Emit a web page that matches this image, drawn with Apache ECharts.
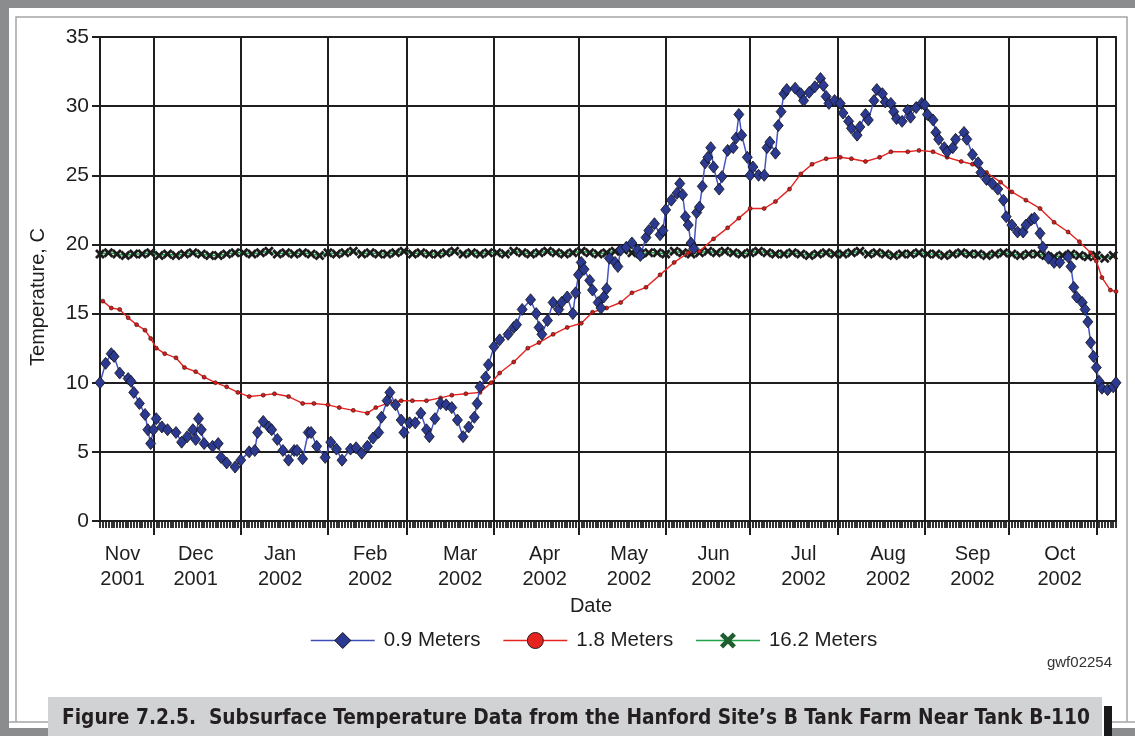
<!DOCTYPE html>
<html>
<head>
<meta charset="utf-8">
<script src="https://cdn.jsdelivr.net/npm/echarts@6/dist/echarts.min.js"></script>
<style>
html,body{margin:0;padding:0;background:#fff;}
#chart{width:1135px;height:736px;}
</style>
</head>
<body>
<div id="chart"></div>
<script>
// ---------- DATA ----------
// Record runs daily from 2001-11-12 to 2002-11-08
const startDate = [2001, 10, 12];
const numDays = 362;

const monthStartDates = ['2001-12-01','2002-01-01','2002-02-01','2002-03-01','2002-04-01','2002-05-01',
  '2002-06-01','2002-07-01','2002-08-01','2002-09-01','2002-10-01','2002-11-01'];
const monthLabelDates = ['2001-11-20','2001-12-16','2002-01-15','2002-02-16','2002-03-20','2002-04-19',
  '2002-05-19','2002-06-18','2002-07-20','2002-08-19','2002-09-18','2002-10-19'];
const monthLabels = ['Nov\n2001','Dec\n2001','Jan\n2002','Feb\n2002','Mar\n2002','Apr\n2002',
  'May\n2002','Jun\n2002','Jul\n2002','Aug\n2002','Sep\n2002','Oct\n2002'];

const yTicks = [0, 5, 10, 15, 20, 25, 30, 35];

// 0.9 Meters (day offset from 2001-11-12, temperature C)
const blueDays = [0,2,4,5,7,10,11,12,14,16,17,18,19,20,22,24,27,29,31,33,34,35,36,37,40,42,43,45,48,50,
  53,55,56,58,60,61,63,65,67,69,70,72,74,75,77,80,82,84,86,89,91,93,95,97,99,100,102,103,105,107,
  108,110,112,114,116,117,119,121,123,125,127,129,131,133,134,135,137,138,140,142,145,147,148,150,153,155,156,157,159,161,
  163,164,166,168,169,170,171,172,174,175,177,178,179,180,181,183,184,185,187,189,191,192,194,195,197,199,200,201,203,205,
  206,207,208,209,210,211,212,213,214,215,216,217,218,220,221,223,225,226,227,228,230,231,232,234,236,237,238,240,241,242,
  243,244,247,249,250,252,254,256,257,258,259,261,263,264,266,267,269,270,272,273,275,276,278,279,281,282,283,285,287,288,
  290,292,293,294,296,297,298,300,301,303,304,307,308,310,312,313,315,317,319,321,322,324,326,328,329,331,332,334,335,337,
  339,341,344,345,346,347,349,350,351,352,353,354,355,356,358,360,361];
const blueTemps = [10.0,11.4,12.1,11.9,10.7,10.3,10.1,9.3,8.5,7.7,6.6,5.6,6.6,7.4,6.8,6.6,6.4,5.7,6.1,6.6,5.9,7.4,6.6,5.6,5.4,5.6,4.6,4.2,3.9,4.4,
  5.0,5.1,6.4,7.2,6.8,6.6,5.9,5.1,4.4,5.1,5.1,4.5,6.4,6.4,5.4,4.6,5.7,5.2,4.4,5.2,5.3,4.9,5.4,6.0,6.4,7.5,8.7,9.3,8.4,7.3,
  6.4,7.1,7.1,7.8,6.6,6.1,7.4,8.5,8.4,8.2,7.3,6.1,6.8,7.5,8.5,9.7,10.4,11.3,12.6,13.1,13.5,14.0,14.2,15.3,16.0,15.0,14.0,13.5,14.5,15.8,
  15.3,15.8,16.2,15.0,16.5,17.8,18.7,18.2,17.4,16.7,15.8,15.4,16.2,16.8,19.0,18.7,18.4,19.6,19.8,20.1,19.6,19.2,20.5,21.0,21.5,20.7,21.0,22.5,23.2,23.7,
  24.4,23.6,22.0,21.4,20.1,19.7,22.3,22.7,24.2,25.9,26.3,27.0,25.6,24.0,24.9,26.8,27.0,27.7,29.4,27.9,26.3,25.0,25.6,25.0,25.0,27.0,27.4,26.6,28.6,29.6,
  30.9,31.2,31.3,30.9,30.4,31.0,31.4,32.0,31.5,30.7,30.2,30.4,30.2,29.5,28.9,28.4,27.9,28.5,29.4,29.0,30.4,31.2,30.9,30.3,30.2,29.6,29.1,28.9,29.7,29.2,
  29.9,30.2,30.1,29.4,29.0,28.1,27.6,27.0,26.7,27.0,27.6,28.1,27.6,26.5,25.9,25.2,24.7,24.4,24.0,23.2,22.0,21.4,20.9,20.9,21.4,21.8,21.9,20.8,19.8,19.0,
  18.7,18.7,19.1,18.4,16.9,16.2,15.8,15.3,14.4,12.9,11.9,11.1,10.1,9.6,9.5,9.7,10.0];

// 1.8 Meters
const redDays = [1,4,7,10,13,16,18,20,23,27,30,34,37,41,45,49,53,58,62,67,72,76,81,85,90,95,98,102,107,111,
  116,121,125,130,135,139,142,147,152,156,161,166,171,175,180,185,189,194,199,204,209,213,218,223,227,231,236,240,245,249,
  253,258,263,267,272,277,281,287,291,296,301,306,310,315,320,324,329,334,339,344,348,352,354,356,359,361];
const redTemps = [15.9,15.4,15.3,14.7,14.2,13.8,13.2,12.5,12.1,11.8,11.1,10.8,10.4,10.0,9.7,9.3,9.0,9.1,9.2,9.0,8.5,8.5,8.4,8.2,8.0,7.8,8.2,8.5,8.7,8.7,
  8.7,8.9,9.1,9.2,9.3,10.0,10.7,11.5,12.5,12.9,13.5,14.0,14.3,15.1,15.4,15.8,16.5,16.9,17.8,18.7,19.4,19.5,20.4,21.2,21.9,22.6,22.6,23.1,24.0,25.1,
  25.8,26.2,26.3,26.2,26.0,26.3,26.7,26.7,26.8,26.7,26.3,26.0,25.8,25.2,24.5,23.8,23.2,22.6,21.6,20.9,20.2,19.4,18.8,17.6,16.7,16.6];

// 16.2 Meters (read every 3 days from day 0)
const greenStep = 3;
const greenTemps = [19.3,19.4,19.3,19.2,19.3,19.3,19.4,19.2,19.3,19.2,19.3,19.4,19.3,19.2,19.2,19.3,19.4,
  19.4,19.3,19.4,19.5,19.3,19.4,19.3,19.4,19.3,19.2,19.4,19.3,19.4,19.5,19.3,19.4,19.3,19.3,19.4,19.5,
  19.3,19.4,19.3,19.3,19.4,19.5,19.3,19.4,19.3,19.4,19.4,19.3,19.5,19.4,19.3,19.4,19.5,19.4,19.3,19.4,
  19.5,19.4,19.3,19.4,19.5,19.6,19.4,19.3,19.4,19.4,19.3,19.5,19.4,19.3,19.4,19.5,19.4,19.5,19.4,19.3,
  19.4,19.5,19.4,19.3,19.3,19.4,19.3,19.2,19.3,19.4,19.3,19.3,19.4,19.5,19.3,19.4,19.3,19.2,19.3,19.3,
  19.4,19.3,19.3,19.2,19.3,19.4,19.3,19.3,19.2,19.3,19.4,19.3,19.2,19.3,19.3,19.2,19.1,19.2,19.3,19.2,19.1,19.2,19.0,19.2];

// ---------- BUILD ----------
const dates = [];
for (let i = 0; i < numDays; i++) {
  const d = new Date(Date.UTC(startDate[0], startDate[1], startDate[2] + i));
  dates.push(d.toISOString().slice(0, 10));
}
const monthStartSet = new Set(monthStartDates);
const labelMap = {};
monthLabelDates.forEach((d, i) => { labelMap[d] = monthLabels[i]; });

const blueData = blueDays.map((d, i) => [dates[d], blueTemps[i]]);
const redData = redDays.map((d, i) => [dates[d], redTemps[i]]);
const greenData = greenTemps.map((v, i) => [dates[i * greenStep], v]);

const FONT = 'Liberation Sans, Arial, sans-serif';
const xPath = 'path://M0,2 L2,0 L5,3 L8,0 L10,2 L7,5 L10,8 L8,10 L5,7 L2,10 L0,8 L3,5 Z';

const chart = echarts.init(document.getElementById('chart'), null, {renderer: 'canvas'});
chart.setOption({
  animation: false,
  backgroundColor: '#ffffff',
  textStyle: {fontFamily: FONT},
  grid: {left: 100, right: 19, top: 37, bottom: 215, show: true, borderColor: '#1e1e1e', borderWidth: 2, backgroundColor: 'transparent'},
  legend: {
    left: 305, top: 625, itemWidth: 64, itemHeight: 20, itemGap: 22,
    textStyle: {fontSize: 20.5, color: '#1e1e1e', fontFamily: FONT, padding: [0, 0, 0, 4]},
    data: [
      {name: '0.9 Meters', itemStyle: {color: '#2b3990', borderColor: '#111', borderWidth: 1}, lineStyle: {color: '#3f4fb8', width: 1.5}},
      {name: '1.8 Meters', itemStyle: {color: '#e52421', borderColor: '#222', borderWidth: 1}, lineStyle: {color: '#e52421', width: 1.5}},
      {name: '16.2 Meters', itemStyle: {color: '#1f5e2e', borderColor: '#1f5e2e', borderWidth: 0}, lineStyle: {color: '#1fa24a', width: 1.5}}
    ]
  },
  xAxis: [{
    type: 'category', data: dates, boundaryGap: false,
    name: 'Date', nameLocation: 'middle', nameGap: 69,
    nameTextStyle: {fontSize: 20, color: '#1e1e1e', padding: [0, 34, 0, 0]},
    axisLine: {show: true, lineStyle: {color: '#1e1e1e', width: 2}},
    axisTick: {show: true, interval: 0, length: 7, lineStyle: {color: '#1e1e1e', width: 1.8}},
    splitLine: {show: true, interval: (idx, val) => monthStartSet.has(val), lineStyle: {color: '#1e1e1e', width: 2}},
    axisLabel: {
      interval: (idx, val) => labelMap[val] !== undefined,
      formatter: (val) => labelMap[val] || '',
      fontSize: 20, color: '#1e1e1e', lineHeight: 25, margin: 21
    }
  }, {
    type: 'category', data: dates, boundaryGap: false, position: 'bottom',
    axisLine: {show: false},
    axisTick: {show: true, interval: (idx, val) => monthStartSet.has(val), length: 14, lineStyle: {color: '#1e1e1e', width: 2}},
    axisLabel: {show: false}, splitLine: {show: false}
  }],
  yAxis: {
    type: 'value', min: yTicks[0], max: yTicks[yTicks.length - 1], interval: 5,
    name: 'Temperature, C', nameLocation: 'middle', nameGap: 52, nameRotate: 90,
    nameTextStyle: {fontSize: 20, color: '#1e1e1e', padding: [0, 36, 0, 0]},
    axisLine: {show: true, lineStyle: {color: '#1e1e1e', width: 2}},
    axisTick: {show: true, length: 8, lineStyle: {color: '#1e1e1e', width: 2}},
    splitLine: {show: true, lineStyle: {color: '#1e1e1e', width: 2}},
    axisLabel: {fontSize: 21, color: '#1e1e1e', margin: 11}
  },
  series: [
    {
      name: '16.2 Meters', type: 'line', data: greenData, connectNulls: true,
      symbol: xPath, symbolSize: 10, showAllSymbol: true,
      lineStyle: {color: '#1fa24a', width: 1.5},
      itemStyle: {color: '#1c1c1c', borderWidth: 0}, z: 2
    },
    {
      name: '1.8 Meters', type: 'line', data: redData, connectNulls: true,
      symbol: 'circle', symbolSize: 4, showAllSymbol: true,
      lineStyle: {color: '#e52421', width: 1.4},
      itemStyle: {color: '#d11f1c', borderColor: '#3a0a0a', borderWidth: 0.6}, z: 3
    },
    {
      name: '0.9 Meters', type: 'line', data: blueData, connectNulls: true,
      symbol: 'diamond', symbolSize: [10, 12], showAllSymbol: true,
      lineStyle: {color: '#4554c4', width: 1.5},
      itemStyle: {color: '#2b3990', borderColor: '#111', borderWidth: 0.8}, z: 4
    }
  ],
  graphic: [
    {type: 'rect', shape: {x: 0, y: 0, width: 1135, height: 8}, style: {fill: '#8b8c8e'}, silent: true},
    {type: 'rect', shape: {x: 0, y: 0, width: 9, height: 736}, style: {fill: '#8b8c8e'}, silent: true},
    {type: 'polyline', shape: {points: [[16, 722], [16, 17], [1127, 17], [1127, 722]]}, style: {stroke: '#a5a5a5', lineWidth: 1.5, fill: null}, silent: true},
    {type: 'line', shape: {x1: 9, y1: 722, x2: 48, y2: 722}, style: {stroke: '#a5a5a5', lineWidth: 1.5}, silent: true},
    {type: 'line', shape: {x1: 1112, y1: 722, x2: 1135, y2: 722}, style: {stroke: '#a5a5a5', lineWidth: 1.5}, silent: true},
    {type: 'rect', shape: {x: 0, y: 728, width: 48, height: 8}, style: {fill: '#8b8c8e'}, silent: true},
    {type: 'rect', shape: {x: 1112, y: 728, width: 23, height: 8}, style: {fill: '#8b8c8e'}, silent: true},
    {type: 'rect', shape: {x: 48, y: 697, width: 1054, height: 39}, style: {fill: '#d1d2d4'}, silent: true},
    {type: 'rect', shape: {x: 1104, y: 706, width: 8, height: 30}, style: {fill: '#1a1a1a'}, silent: true},
    {type: 'text', left: 62, top: 708, style: {text: 'Figure 7.2.5.  Subsurface Temperature Data from the Hanford Site\u2019s B Tank Farm Near Tank B-110',
      font: 'bold 20.7px "DejaVu Sans Condensed", "Liberation Sans Narrow", sans-serif', fill: '#231f20'}, silent: true},
    {type: 'text', right: 23, top: 655, style: {text: 'gwf02254', font: '15px "Liberation Sans", Arial, sans-serif', fill: '#333'}, silent: true}
  ]
});
</script>
</body>
</html>
